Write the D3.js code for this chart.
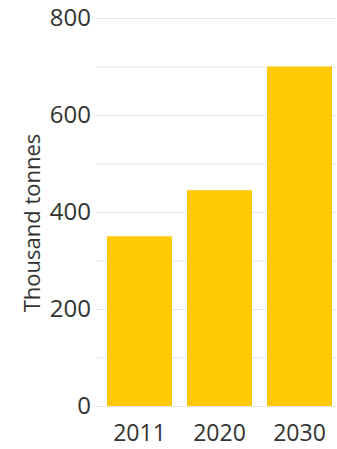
<!DOCTYPE html>
<html>
<head>
	<meta charset="utf-8">
	<title>Thousand tonnes</title>
	<script type="text/javascript" src="https://cdn.jsdelivr.net/npm/d3@7"></script>
	<style>
		body { margin: 0; background: #fff; }
		text { font-family: "Open Sans", sans-serif; fill: #333; }
	</style>
</head>
<body>
	<div id="chart"></div>

	<script type="text/javascript">

	var years = ["2011", "2020", "2030"];
	var tonnes = [350, 445, 700];
	var yTicks = [0, 200, 400, 600, 800];
	var gridTicks = [0, 100, 200, 300, 400, 500, 600, 700, 800];

	var width = 337, height = 449;
	var margin = {top: 18, right: 0, bottom: 43, left: 97};

	var svg = d3.select("#chart").append("svg")
		.attr("width", width)
		.attr("height", height);

	var x = d3.scaleBand()
		.domain(years)
		.range([99, 340])
		.paddingInner(0.1875)
		.paddingOuter(0.1);

	var y = d3.scaleLinear()
		.domain([0, 800])
		.range([height - margin.bottom, margin.top]);

	/* dotted gridlines */
	svg.append("g").selectAll("line")
		.data(gridTicks)
		.enter().append("line")
		.attr("x1", margin.left)
		.attr("x2", width)
		.attr("y1", function(d) { return y(d) + 0.5; })
		.attr("y2", function(d) { return y(d) + 0.5; })
		.style("stroke", "#cfcfcf")
		.style("stroke-width", 1)
		.style("stroke-dasharray", "1,1");

	svg.append("g").selectAll("rect")
		.data(tonnes)
		.enter().append("rect")
		.attr("x", function(d, i) { return x(years[i]); })
		.attr("width", x.bandwidth())
		.attr("y", function(d) { return y(d); })
		.attr("height", function(d) { return y(0) - y(d); })
		.style("fill", "#ffc906");

	/* y axis labels */
	var yAxis = d3.axisLeft(y).tickValues(yTicks).tickSize(0).tickPadding(6);
	var gy = svg.append("g")
		.attr("transform", "translate(" + (margin.left) + ",0)")
		.call(yAxis);
	gy.select(".domain").remove();
	gy.selectAll("text")
		.style("font-size", "24px")
		.style("font-family", "'Open Sans', sans-serif")
		.attr("fill", "#333");

	/* x axis labels */
	var xAxis = d3.axisBottom(x).tickSize(0).tickPadding(19);
	var gx = svg.append("g")
		.attr("transform", "translate(0," + y(0) + ")")
		.call(xAxis);
	gx.select(".domain").remove();
	gx.selectAll("text")
		.style("font-size", "23px")
		.style("font-family", "'Open Sans', sans-serif")
		.attr("fill", "#333");

	svg.append("text")
		.attr("transform", "translate(40," + 223 + ") rotate(-90)")
		.attr("text-anchor", "middle")
		.style("font-size", "22px")
		.text("Thousand tonnes");

	</script>
</body>
</html>
